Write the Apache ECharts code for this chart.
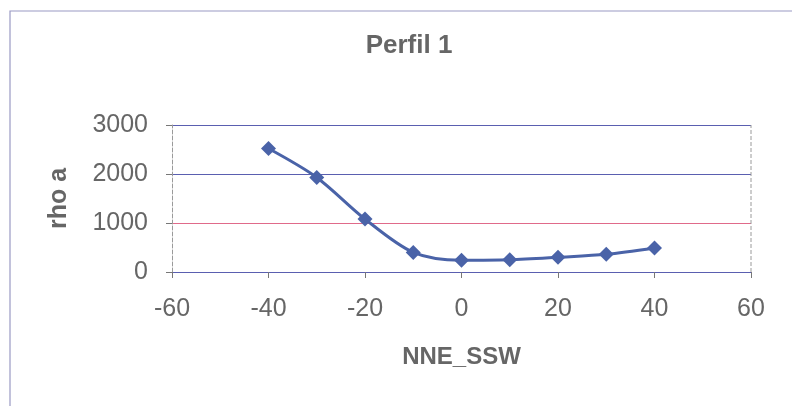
<!DOCTYPE html>
<html><head><meta charset="utf-8">
<script src="https://cdn.jsdelivr.net/npm/echarts@6/dist/echarts.min.js"></script>
<style>html,body{margin:0;padding:0;background:#fff}#c{width:792px;height:406px}</style>
</head><body><div id="c"></div>
<script>
var xValues = [-40, -30, -20, -10, 0, 10, 20, 30, 40];
var rhoA = [2520, 1930, 1080, 400, 240, 250, 300, 360, 490];
var xTicks = [-60, -40, -20, 0, 20, 40, 60];
var yTicks = [0, 1000, 2000, 3000];

var data = xValues.map(function (x, i) { return [x, rhoA[i]]; });
var chart = echarts.init(document.getElementById('c'));
var txt = '#666666';
var ff = '"Liberation Sans", Arial, sans-serif';
chart.setOption({
  animation: false,
  backgroundColor: '#ffffff',
  title: {
    text: 'Perfil 1', left: 404, top: 28, textAlign: 'center',
    textStyle: { fontFamily: ff, fontWeight: 'bold', fontSize: 26, color: txt }
  },
  graphic: [{
    type: 'rect', shape: { x: 10, y: 11, width: 800, height: 420 },
    style: { fill: 'none', stroke: '#9a9ac4', lineWidth: 1.2 }, silent: true
  }],
  grid: { left: 172, right: 41, top: 125, bottom: 134 },
  xAxis: {
    type: 'value', min: -60, max: 60, interval: 20,
    name: 'NNE_SSW', nameLocation: 'middle', nameGap: 73,
    nameTextStyle: { fontFamily: ff, fontWeight: 'bold', fontSize: 24, color: txt },
    axisLine: { onZero: false, lineStyle: { color: '#5a5fb0', width: 1.2 } },
    axisTick: { show: true, length: 6, inside: false, lineStyle: { color: '#777' } },
    axisLabel: { fontFamily: ff, fontSize: 25, color: txt, margin: 25,
      formatter: function (v) { return xTicks.indexOf(v) >= 0 ? String(v) : ''; } },
    splitLine: { show: false }
  },
  yAxis: {
    type: 'value', min: 0, max: 3000, interval: 1000,
    name: 'rho a', nameLocation: 'middle', nameGap: 100, nameRotate: 90,
    nameTextStyle: { fontFamily: ff, fontWeight: 'bold', fontSize: 25, color: txt },
    axisLine: { show: true, onZero: false, lineStyle: { color: '#9a9a9a', width: 1, type: 'dashed' } },
    axisTick: { show: true, length: 6, lineStyle: { color: '#777' } },
    axisLabel: { fontFamily: ff, fontSize: 25, color: txt, margin: 24,
      formatter: function (v) { return yTicks.indexOf(v) >= 0 ? String(v) : ''; } },
    splitLine: { show: true, lineStyle: { width: 1.2,
      color: ['#5a5fb0', '#e06a8a', '#5a5fb0', '#5a5fb0'] } }
  },
  series: [{
    type: 'line', data: data, smooth: 0.3,
    symbol: 'diamond', symbolSize: 15,
    lineStyle: { color: '#4a63a8', width: 3 },
    itemStyle: { color: '#4a63a8' }
  }, {
    type: 'line', data: [[60, 0], [60, 3000]], symbol: 'none', silent: true,
    lineStyle: { color: '#9a9a9a', width: 1, type: 'dashed' }
  }]
});
</script></body></html>
